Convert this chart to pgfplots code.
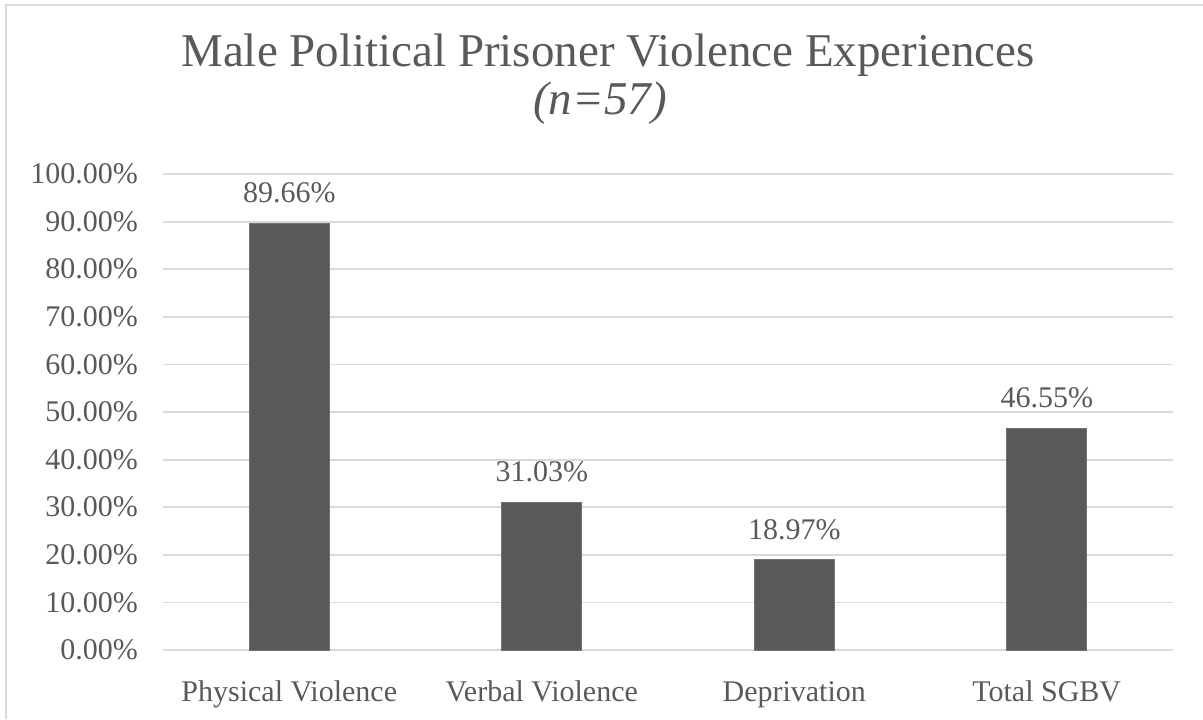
\documentclass[border=0pt]{standalone}
\usepackage{pgfplots}
\pgfplotsset{compat=1.18}
\usepackage{fontspec}
\setmainfont{Liberation Serif}
\definecolor{txt}{HTML}{595959}
\definecolor{barc}{HTML}{595959}
\definecolor{gridc}{HTML}{D9D9D9}
\begin{document}
\begin{tikzpicture}[x=1pt,y=1pt]
\path[use as bounding box] (0,0) rectangle (601.5,359.5);
\draw[gridc, line width=1.2pt] (3,0) -- (3,357) -- (601.5,357);
\node[anchor=base, text=txt, font=\fontsize{23.5}{28}\selectfont] at (304,326) {Male Political Prisoner Violence Experiences};
\node[anchor=base, text=txt, font=\fontsize{23.5}{28}\selectfont\itshape] at (300,302) {(n=57)};
\begin{axis}[
  at={(81.5pt,34.5pt)}, anchor=south west,
  scale only axis, width=505pt, height=238pt,
  xmin=-0.5, xmax=3.5, ymin=0, ymax=100,
  axis line style={draw=none},
  tick style={draw=none},
  ymajorgrids, grid style={gridc, line width=0.9pt},
  ytick={0,10,...,100},
  xtick={0,1,2,3},
  xticklabels={Physical Violence, Verbal Violence, Deprivation, Total SGBV},
  /pgf/number format/assume math mode=true,
  yticklabel={\pgfmathprintnumber[fixed,fixed zerofill,precision=2]{\tick}\%},
  tick label style={text=txt, font=\fontsize{15}{18}\selectfont},
  yticklabel style={xshift=-9pt},
  xticklabel style={anchor=base, yshift=-21.5pt},
  ybar, bar width=40pt,
  nodes near coords={\pgfmathprintnumber[fixed,fixed zerofill,precision=2]{\pgfplotspointmeta}\%},
  nodes near coords style={text=txt, font=\fontsize{15}{18}\selectfont, yshift=6.5pt},
]
\addplot[fill=barc, draw=barc!85!white] coordinates {(0,89.66) (1,31.03) (2,18.97) (3,46.55)};
\end{axis}
\end{tikzpicture}
\end{document}
